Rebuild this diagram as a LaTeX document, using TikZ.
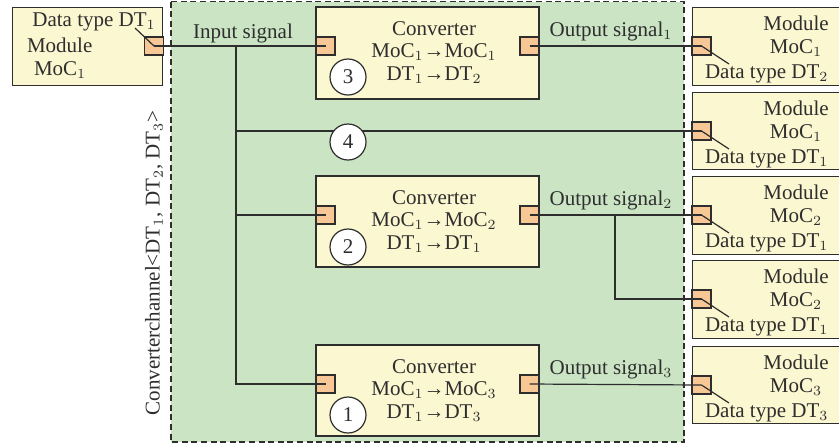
\documentclass[tikz,border=0pt]{standalone}
\usepackage{fontspec}
\setmainfont{Liberation Serif}
\usetikzlibrary{positioning}

\definecolor{chgreen}{HTML}{CAE4C4}
\definecolor{modyellow}{HTML}{FBF7D0}
\definecolor{portorange}{HTML}{F7C796}
\definecolor{inkgray}{HTML}{2E2E2E}

\tikzset{
	every node/.style={font=\fontsize{10.5}{11.5}\selectfont, text=inkgray},
	modbox/.style={draw=inkgray, fill=modyellow, line width=0.6pt, inner sep=0pt},
	port/.style={draw=inkgray, fill=portorange, line width=0.6pt, inner sep=0pt,
		minimum width=9.5pt, minimum height=9pt},
	wire/.style={draw=inkgray, line width=0.6pt},
	numcirc/.style={circle, draw=inkgray, fill=white, line width=0.6pt, inner sep=0pt,
		minimum size=18pt},
	channel/.style={draw=inkgray, fill=chgreen, line width=0.7pt, dash pattern=on 3pt off 1.8pt}
}

\begin{document}
\begin{tikzpicture}[x=0.5pt,y=-0.5pt]
\clip (0,0) rectangle (839,446);
\useasboundingbox (0,0) rectangle (839,446);

% converter channel
\draw[channel] (171,1.5) rectangle (684,442);
\node[rotate=90] (chlabel) at (154,263) {Converterchannel<DT$_1$, DT$_2$, DT$_3$>};

% source module
\node[modbox, anchor=north west, minimum width=75pt, minimum height=39pt] (src) at (12,7) {};
\node[port] (srcp) at (154,46) {};
\node[anchor=base] (srcdt) at (94,26) {Data type DT$_1$};
\node[anchor=base west] (srcm) at (20,52) {Module};
\node[anchor=base west] (srcmoc) at (27,75) {MoC$_1$};
\coordinate (srcl) at (135,28);
\draw[wire] (srcl) -- (srcp.center);

% converters
\node[modbox, minimum width=111.5pt, minimum height=46pt] (conv3) at (427.5,53) {};
\node[modbox, minimum width=111.5pt, minimum height=45.5pt] (conv2) at (427.5,221.5) {};
\node[modbox, minimum width=111.5pt, minimum height=45.5pt] (conv1) at (427.5,390.5) {};
\node[anchor=base] (conv3a) at (434,35) {Converter};
\node[anchor=base] (conv3b) at (434,57) {MoC$_1$→MoC$_1$};
\node[anchor=base] (conv3c) at (434,80) {DT$_1$→DT$_2$};
\node[anchor=base] (conv2a) at (434,204) {Converter};
\node[anchor=base] (conv2b) at (434,226) {MoC$_1$→MoC$_2$};
\node[anchor=base] (conv2c) at (434,249) {DT$_1$→DT$_1$};
\node[anchor=base] (conv1a) at (434,373) {Converter};
\node[anchor=base] (conv1b) at (434,395) {MoC$_1$→MoC$_3$};
\node[anchor=base] (conv1c) at (434,418) {DT$_1$→DT$_3$};
\node[port] (c3in) at (325.5,46) {};
\node[port] (c3out) at (529.5,46) {};
\node[port] (c2in) at (325.5,215) {};
\node[port] (c2out) at (529.5,215) {};
\node[port] (c1in) at (325.5,384) {};
\node[port] (c1out) at (529.5,384) {};

% target modules
\node[modbox, anchor=north west, minimum width=80pt, minimum height=39pt] (mod1) at (692,7) {};
\node[modbox, anchor=north west, minimum width=80pt, minimum height=38.5pt] (mod2) at (692,92) {};
\node[modbox, anchor=north west, minimum width=80pt, minimum height=39pt] (mod3) at (692,176) {};
\node[modbox, anchor=north west, minimum width=80pt, minimum height=39pt] (mod4) at (692,260) {};
\node[modbox, anchor=north west, minimum width=80pt, minimum height=38.5pt] (mod5) at (692,346) {};
\node[port] (m1p) at (701.5,46) {};
\node[port] (m2p) at (701.5,131) {};
\node[port] (m3p) at (701.5,215) {};
\node[port] (m4p) at (701.5,299) {};
\node[port] (m5p) at (701.5,385) {};
\node[align=center] (m1t) at (796,36) {Module\\MoC$_1$};
\node[align=center] (m2t) at (796,121) {Module\\MoC$_1$};
\node[align=center] (m3t) at (796,205) {Module\\MoC$_2$};
\node[align=center] (m4t) at (796,289) {Module\\MoC$_2$};
\node[align=center] (m5t) at (796,375) {Module\\MoC$_3$};
\node[anchor=base west] (m1dt) at (698,78) {Data type DT$_2$};
\node[anchor=base west] (m2dt) at (698,163) {Data type DT$_1$};
\node[anchor=base west] (m3dt) at (698,247) {Data type DT$_1$};
\node[anchor=base west] (m4dt) at (698,331) {Data type DT$_1$};
\node[anchor=base west] (m5dt) at (698,417) {Data type DT$_3$};
\coordinate (m1l) at (729,64);
\coordinate (m2l) at (729,149);
\coordinate (m3l) at (729,233);
\coordinate (m4l) at (729,317);
\coordinate (m5l) at (729,403);
\draw[wire] (m1p.center) -- (m1l);
\draw[wire] (m2p.center) -- (m2l);
\draw[wire] (m3p.center) -- (m3l);
\draw[wire] (m4p.center) -- (m4l);
\draw[wire] (m5p.center) -- (m5l);

% signals
\coordinate (tj) at (236,46);
\coordinate (oj) at (615,215);
\draw[wire] (srcp.center) -- (c3in.center);
\draw[wire] (tj) |- (c1in.center);
\draw[wire] (tj |- m2p.center) -- (m2p.center);
\draw[wire] (tj |- c2in.center) -- (c2in.center);
\draw[wire] (c3out.center) -- (m1p.center);
\draw[wire] (c2out.center) -- (m3p.center);
\draw[wire] (oj) |- (m4p.center);
\draw[wire] (c1out.center) -- (m5p.center);
\node[anchor=base] (insig) at (243,38) {Input signal};
\node[anchor=base] (out1) at (611,36) {Output signal$_1$};
\node[anchor=base] (out2) at (611,205) {Output signal$_2$};
\node[anchor=base] (out3) at (611,374) {Output signal$_3$};

% numbers
\node[numcirc] (n3) at (348,77) {3};
\node[numcirc] (n2) at (348,247) {2};
\node[numcirc] (n1) at (348,415) {1};
\node[numcirc] (n4) at (348,142) {4};
\end{tikzpicture}
\end{document}
